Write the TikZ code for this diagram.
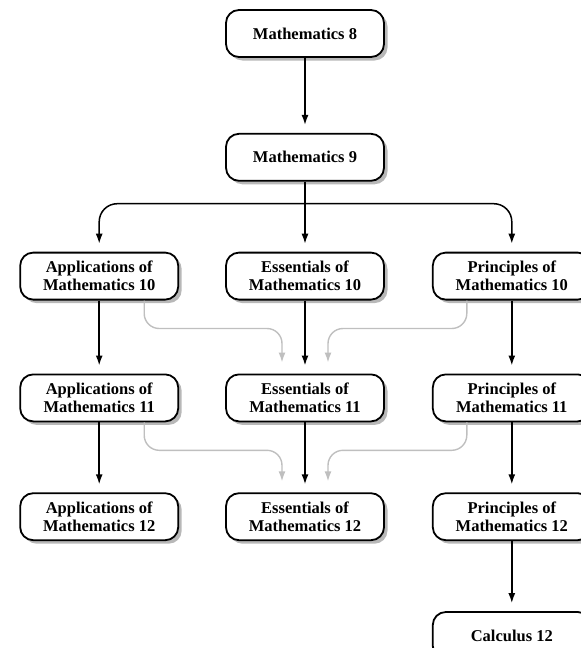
\documentclass[tikz,border=0pt]{standalone}
\usepackage{fontspec}
\setmainfont{Liberation Serif}
\usepackage{tikz}
\usetikzlibrary{arrows.meta, positioning, calc, shadows}

\begin{document}
\begin{tikzpicture}[
    node distance=46pt,
    course/.style={rectangle, draw, line width=1.8pt, fill=white, rounded corners=13pt, minimum width=158pt, minimum height=47pt, align=center, inner sep=2pt, font=\fontsize{16.5}{18}\selectfont\bfseries, drop shadow={shadow xshift=3.5pt, shadow yshift=-3.5pt, fill=black!35, opacity=0.8}},
    line/.style={draw, -{Latex[length=10pt, width=7pt]}, line width=1.5pt, shorten >=8pt},
    optline/.style={draw, -{Latex[length=10pt, width=7pt]}, line width=1.4pt, color=black!25, shorten >=11pt, rounded corners=15pt}
]
    \useasboundingbox (0,0) rectangle (581pt,-648pt);

    \node [course] (m8) at (305pt,-33.5pt) {Mathematics 8};
    \node [course, below=75pt of m8] (m9) {Mathematics 9};

    \node [course, below=70pt of m9] (e10) {Essentials of\\Mathematics 10};
    \node [course, left=of e10] (a10) {Applications of\\Mathematics 10};
    \node [course, right=47pt of e10] (p10) {Principles of\\Mathematics 10};

    \node [course, below=73pt of e10] (e11) {Essentials of\\Mathematics 11};
    \node [course, left=of e11] (a11) {Applications of\\Mathematics 11};
    \node [course, right=47pt of e11] (p11) {Principles of\\Mathematics 11};

    \node [course, below=70pt of e11] (e12) {Essentials of\\Mathematics 12};
    \node [course, left=of e12] (a12) {Applications of\\Mathematics 12};
    \node [course, right=47pt of e12] (p12) {Principles of\\Mathematics 12};

    \node [course, below=70pt of p12] (c12) {Calculus 12};

    \coordinate (fork) at ([yshift=-22pt]m9.south);

    \draw [line] (m8) -- (m9);
    \draw [line] (m9) -- (e10);
    \draw [line, rounded corners=18pt] (fork) -| (a10.north);
    \draw [line, rounded corners=18pt] (fork) -| (p10.north);

    % optional crossovers
    \draw [optline] ([xshift=45pt]a10.south) |- ([xshift=-23pt,yshift=45pt]e11.north) -- ([xshift=-23pt]e11.north);
    \draw [optline] ([xshift=-45pt]p10.south) |- ([xshift=23pt,yshift=45pt]e11.north) -- ([xshift=23pt]e11.north);
    \draw [optline] ([xshift=45pt]a11.south) |- ([xshift=-23pt,yshift=42pt]e12.north) -- ([xshift=-23pt]e12.north);
    \draw [optline] ([xshift=-45pt]p11.south) |- ([xshift=23pt,yshift=42pt]e12.north) -- ([xshift=23pt]e12.north);

    \draw [line] (a10) -- (a11);
    \draw [line] (e10) -- (e11);
    \draw [line] (p10) -- (p11);
    \draw [line] (a11) -- (a12);
    \draw [line] (e11) -- (e12);
    \draw [line] (p11) -- (p12);
    \draw [line] (p12) -- (c12);

\end{tikzpicture}
\end{document}
